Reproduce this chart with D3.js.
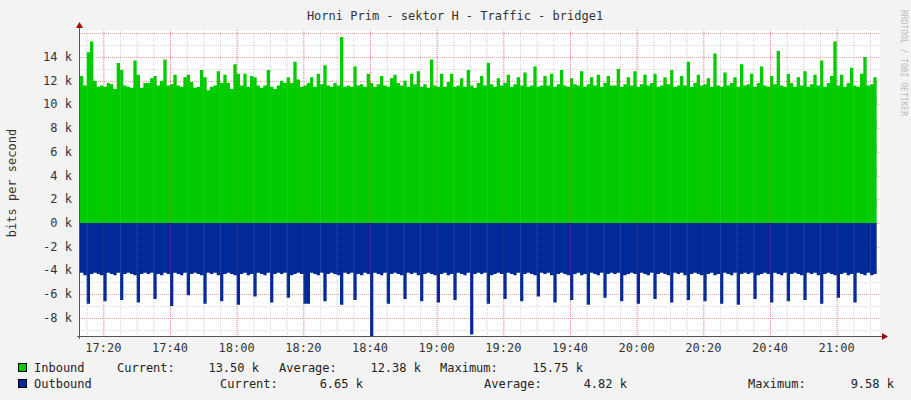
<!DOCTYPE html>
<html><head><meta charset="utf-8">
<script src="https://cdn.jsdelivr.net/npm/d3@7"></script>
<style>body{margin:0;background:#f3f3f3}</style>
</head><body>
<svg id="chart" width="911" height="400"></svg>
<script>
// traffic per minute, in k bits/s, 17:13 .. 21:13
const inbound = [
12.4,11.6,14.4,15.3,12.0,11.5,11.6,11.5,11.8,11.7,11.3,13.5,12.9,11.6,11.5,11.4,13.7,12.5,11.4,11.8,
11.8,12.2,12.4,11.6,12.0,13.8,11.6,11.7,12.5,11.6,11.5,12.3,12.5,11.9,11.4,11.5,12.9,12.3,11.2,11.5,
11.6,12.8,11.8,12.5,11.8,11.3,13.4,12.6,11.6,12.6,11.5,12.4,12.3,11.6,11.4,11.6,12.9,11.5,11.3,11.6,
12.0,11.8,12.3,11.8,13.6,12.1,11.5,11.6,11.8,12.3,11.5,12.6,11.7,13.3,11.6,11.5,11.8,11.6,15.7,11.5,
11.6,11.5,13.2,11.6,11.7,11.5,12.6,11.8,11.5,11.7,12.4,11.6,11.5,12.2,12.5,11.8,11.6,12.0,11.5,12.6,
11.7,12.8,11.5,11.7,11.4,13.8,11.6,11.5,12.6,11.5,11.9,12.6,11.5,11.6,12.2,11.5,12.9,11.6,11.4,11.8,
12.4,11.6,13.5,11.7,11.5,12.2,11.6,11.8,12.5,11.5,11.7,12.3,11.6,12.7,11.5,11.6,13.2,11.5,11.6,12.4,
11.6,12.6,11.5,11.7,12.9,11.6,11.5,12.2,11.7,11.6,12.8,11.5,11.7,12.3,11.6,12.5,11.5,11.8,12.4,11.6,
11.6,13.0,11.5,11.7,12.3,11.6,12.8,11.5,11.7,12.5,11.6,11.8,12.6,11.5,11.6,12.3,11.7,12.9,11.5,11.6,
12.4,11.6,13.6,11.5,11.8,12.5,11.6,11.7,12.2,11.5,14.3,11.6,11.5,12.7,11.6,11.8,12.3,11.5,13.4,11.6,
11.7,12.6,11.5,11.8,13.2,11.6,11.5,12.4,11.7,14.5,11.6,11.5,12.6,11.8,11.5,12.3,11.6,12.8,11.5,11.7,
12.5,11.6,13.7,11.5,11.8,12.4,15.3,11.6,12.5,11.5,11.8,13.1,11.6,11.5,12.6,14.0,11.6,11.7,12.3,13.5]
const outbound = [
4.2,4.4,6.8,4.3,4.2,4.3,4.4,6.6,4.2,4.3,4.4,4.2,6.5,4.3,4.2,4.3,4.4,6.7,4.3,4.2,
4.3,4.2,6.4,4.3,4.4,4.2,4.3,7.0,4.2,4.3,4.4,4.2,6.1,4.3,4.2,4.3,4.4,6.8,4.2,4.3,
4.2,4.4,6.6,4.3,4.2,4.3,4.4,6.9,4.3,4.2,4.4,4.3,6.2,4.2,4.3,4.4,4.2,6.7,4.3,4.2,
4.3,4.2,6.3,4.4,4.3,4.2,4.3,6.8,6.8,4.2,4.3,4.4,4.2,6.6,4.3,4.2,4.3,4.4,6.9,4.2,
4.3,4.2,6.5,4.3,4.4,4.2,4.3,9.58,4.2,4.3,4.4,4.2,6.8,4.3,4.2,4.3,4.4,6.4,4.2,4.3,
4.2,4.4,6.6,4.3,4.2,4.3,4.4,6.7,4.3,4.2,4.4,4.3,6.5,4.2,4.3,4.4,4.2,9.4,4.3,4.2,
4.3,4.2,6.8,4.4,4.3,4.2,4.3,6.4,4.2,4.3,4.4,4.2,6.6,4.3,4.2,4.3,4.4,6.2,4.2,4.3,
4.2,4.4,6.7,4.3,4.2,4.3,4.4,6.5,4.3,4.2,4.4,4.3,6.9,4.2,4.3,4.4,4.2,6.3,4.3,4.2,
4.3,4.2,6.6,4.4,4.3,4.2,4.3,6.8,4.2,4.3,4.4,4.2,6.4,4.3,4.2,4.3,4.4,6.7,4.2,4.3,
4.2,4.4,6.5,4.3,4.2,4.3,4.4,6.6,4.3,4.2,4.4,4.3,6.8,4.2,4.3,4.4,4.2,6.9,4.3,4.2,
4.3,4.2,6.4,4.4,4.3,4.2,4.3,6.7,4.2,4.3,4.4,4.2,6.6,4.3,4.2,4.3,4.4,6.5,4.2,4.3,
4.2,4.4,6.8,4.3,4.2,4.3,4.4,6.3,4.3,4.2,4.4,4.3,6.7,4.2,4.3,4.4,4.2,4.4,4.3,6.65]
const yTicks = [-8,-6,-4,-2,0,2,4,6,8,10,12,14]
const legendRows = [
  {name:"Inbound", color:"#00cc00", items:[["Current:",117,"13.50 k",259],["Average:",279,"12.38 k",421],["Maximum:",440,"15.75 k",583]]},
  {name:"Outbound", color:"#002a97", items:[["Current:",220,"6.65 k",363],["Average:",484,"4.82 k",627],["Maximum:",748,"9.58 k",894]]}
]

const svg = d3.select("#chart")
const font = "DejaVu Sans Mono, monospace"
const pLeft = 80, pRight = 880, pTop = 30, pBottom = 336
const t0 = new Date(2020,0,1,17,13)
const t1 = new Date(2020,0,1,21,13)
const x = d3.scaleTime().domain([t0,t1]).range([pLeft,pRight])
const y = d3.scaleLinear().domain([-9.53,16.28]).range([pBottom,pTop])
const time = i => new Date(t0.getTime() + i*60000)

svg.append("rect").attr("x",pLeft).attr("y",pTop).attr("width",pRight-pLeft).attr("height",pBottom-pTop).attr("fill","#fff")

// grid
const minorX = d3.timeMinute.every(5).range(t0,t1)
svg.append("g").selectAll("line").data(minorX).join("line")
  .attr("x1",d=>x(d)+.5).attr("x2",d=>x(d)+.5).attr("y1",pTop).attr("y2",pBottom)
  .attr("stroke", d=>d.getMinutes()%20==0 ? "#e6a0a0" : "#ddd").attr("stroke-dasharray","1,1")
svg.append("g").selectAll("line").data(d3.range(-9,17)).join("line")
  .attr("x1",pLeft).attr("x2",pRight).attr("y1",d=>Math.round(y(d))+.5).attr("y2",d=>Math.round(y(d))+.5)
  .attr("stroke", d=>d%2==0 ? "#e6a0a0" : "#ddd").attr("stroke-dasharray","1,1")

const inArea = d3.area().x((d,i)=>x(time(i))).y0(y(0)).y1(d=>y(d)).curve(d3.curveStepAfter)
const outArea = d3.area().x((d,i)=>x(time(i))).y0(y(0)).y1(d=>y(-d)).curve(d3.curveStepAfter)
svg.append("path").datum(inbound).attr("d",inArea).attr("fill","#00cc00")
svg.append("path").datum(outbound).attr("d",outArea).attr("fill","#002a97")

// grid over areas (faint, like rrdtool)
svg.append("g").selectAll("line").data(minorX).join("line")
  .attr("x1",d=>x(d)+.5).attr("x2",d=>x(d)+.5).attr("y1",pTop).attr("y2",pBottom)
  .attr("stroke", d=>d.getMinutes()%20==0 ? "rgba(255,80,80,.35)" : "rgba(200,200,200,.3)").attr("stroke-dasharray","1,1")

// axes
svg.append("line").attr("x1",pLeft-.5).attr("x2",pLeft-.5).attr("y1",pTop-4).attr("y2",pBottom+3).attr("stroke","#555")
svg.append("line").attr("x1",pLeft-3).attr("x2",pRight+3).attr("y1",pBottom+.5).attr("y2",pBottom+.5).attr("stroke","#555")
svg.append("path").attr("d",`M${pLeft-4},${pTop-2}L${pLeft+3},${pTop-2}L${pLeft-.5},${pTop-8}Z`).attr("fill","#a00")
svg.append("path").attr("d",`M${pRight+2},${pBottom-3}L${pRight+2},${pBottom+4}L${pRight+8},${pBottom+.5}Z`).attr("fill","#a00")

svg.append("g").selectAll("text").data(yTicks).join("text")
  .attr("x",pLeft-8).attr("y",d=>y(d)+4).attr("text-anchor","end")
  .attr("font-family",font).attr("font-size",12).attr("fill","#333")
  .text(d=>d+" k")
const xTicks = d3.timeMinute.every(20).range(t0,t1)
svg.append("g").selectAll("text").data(xTicks).join("text")
  .attr("x",d=>x(d)).attr("y",pBottom+16).attr("text-anchor","middle")
  .attr("font-family",font).attr("font-size",12).attr("fill","#333")
  .text(d3.timeFormat("%H:%M"))

svg.append("text").attr("x",455).attr("y",20).attr("text-anchor","middle")
  .attr("font-family",font).attr("font-size",12).attr("fill","#333")
  .text("Horni Prim - sektor H - Traffic - bridge1")
svg.append("text").attr("transform","translate(16,183) rotate(-90)").attr("text-anchor","middle")
  .attr("font-family",font).attr("font-size",12).attr("fill","#333").text("bits per second")
svg.append("text").attr("transform","translate(901,10) rotate(90)").attr("text-anchor","start")
  .attr("font-family",font).attr("font-size",8).attr("fill","#bbb").text("RRDTOOL / TOBI OETIKER")

legendRows.forEach((r,k)=>{
  const by = 372 + k*16
  svg.append("rect").attr("x",18.5).attr("y",by-8.5).attr("width",8).attr("height",8).attr("fill",r.color).attr("stroke","#000")
  const txt = (s,xx,anchor)=>svg.append("text").attr("x",xx).attr("y",by).attr("text-anchor",anchor)
    .attr("font-family",font).attr("font-size",12).attr("fill","#222").text(s)
  txt(r.name,34,"start")
  r.items.forEach(it=>{ txt(it[0],it[1],"start"); txt(it[2],it[3],"end") })
})
</script>
</body></html>
